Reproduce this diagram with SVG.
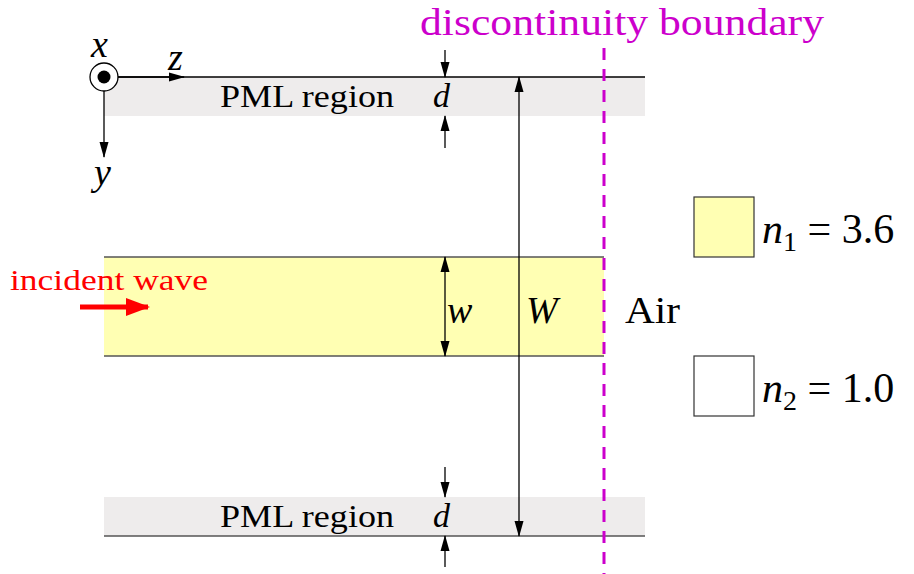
<svg xmlns="http://www.w3.org/2000/svg" width="914" height="574" viewBox="0 0 914 574">
<defs>
<marker id="ah" markerUnits="userSpaceOnUse" markerWidth="16" markerHeight="10" viewBox="0 -5 16 10" refX="15" refY="0" orient="auto-start-reverse">
<path d="M0,-4.5 L16,0 L0,4.5 Z" fill="#000"/>
</marker>
<marker id="ahr" markerUnits="userSpaceOnUse" markerWidth="24" markerHeight="20" viewBox="0 -10 24 20" refX="22" refY="0" orient="auto">
<path d="M0,-9 L24,0 L0,9 Z" fill="#f00"/>
</marker>
</defs>
<style>
text{font-family:"Liberation Serif","Noto Serif","DejaVu Serif","Times New Roman",Times,serif;fill:#000}
.m{font-style:italic}
.dim{stroke:#000;stroke-width:1.3;fill:none}
.pml{fill:#eeecec}
</style>
<rect width="914" height="574" fill="#fff"/>
<g id="pml-top">
<rect class="pml" x="104" y="77" width="541" height="39"/>
<line x1="104" y1="77" x2="645" y2="77" stroke="#000" stroke-width="1.4"/>
<text x="220" y="107" font-size="31" textLength="174" lengthAdjust="spacingAndGlyphs">PML region</text>
<text class="m" x="433" y="107" font-size="34">d</text>
</g>
<g id="pml-bottom">
<rect class="pml" x="104" y="497" width="541" height="39"/>
<line x1="104" y1="536" x2="645" y2="536" stroke="#555" stroke-width="1.4"/>
<text x="220" y="527" font-size="31" textLength="174" lengthAdjust="spacingAndGlyphs">PML region</text>
<text class="m" x="433" y="527" font-size="34">d</text>
</g>
<g id="core">
<rect x="104" y="257" width="500" height="99" fill="#ffffb3"/>
<line x1="104" y1="257" x2="604" y2="257" stroke="#555" stroke-width="1.4"/>
<line x1="104" y1="356" x2="604" y2="356" stroke="#555" stroke-width="1.4"/>
</g>
<g id="axes">
<circle cx="104" cy="77" r="14" fill="#fff" stroke="#000" stroke-width="1.3"/>
<circle cx="104" cy="77" r="6.5" fill="#000"/>
<line x1="118" y1="77" x2="184" y2="77" class="dim" marker-end="url(#ah)"/>
<line x1="104" y1="91" x2="104" y2="157" class="dim" marker-end="url(#ah)"/>
<text class="m" x="91" y="57" font-size="38">x</text>
<text class="m" x="168" y="70" font-size="38">z</text>
<text class="m" x="94" y="185" font-size="38">y</text>
</g>
<g id="connectors">
<line x1="445" y1="50" x2="445" y2="77" class="dim" marker-end="url(#ah)"/>
<line x1="445" y1="148" x2="445" y2="116" class="dim" marker-end="url(#ah)"/>
<line x1="445" y1="467" x2="445" y2="497" class="dim" marker-end="url(#ah)"/>
<line x1="445" y1="567" x2="445" y2="536" class="dim" marker-end="url(#ah)"/>
<line x1="519" y1="77" x2="519" y2="536" class="dim" marker-start="url(#ah)" marker-end="url(#ah)"/>
<line x1="445" y1="257" x2="445" y2="356" class="dim" marker-start="url(#ah)" marker-end="url(#ah)"/>
<line x1="80" y1="307" x2="148" y2="307" stroke="#f00" stroke-width="5" marker-end="url(#ahr)"/>
</g>
<g id="labels">
<text class="m" x="447" y="323" font-size="38">w</text>
<text class="m" x="526" y="323" font-size="38">W</text>
<text x="625" y="323" font-size="37" textLength="55" lengthAdjust="spacingAndGlyphs">Air</text>
<text x="10" y="290" font-size="30" style="fill:#f00" textLength="198" lengthAdjust="spacingAndGlyphs">incident wave</text>
</g>
<g id="boundary">
<line x1="604" y1="48" x2="604" y2="574" stroke="#cc00cc" stroke-width="3" stroke-dasharray="12 9"/>
<text x="420" y="35" font-size="38" style="fill:#cc00cc" textLength="404" lengthAdjust="spacingAndGlyphs">discontinuity boundary</text>
</g>
<g id="legend-n1">
<rect x="694" y="197" width="60" height="60" fill="#ffffb3" stroke="#333" stroke-width="1.2"/>
<text x="762" y="243" font-size="42"><tspan class="m">n</tspan><tspan font-size="28" dy="8">1</tspan><tspan dy="-8"> = 3.6</tspan></text>
</g>
<g id="legend-n2">
<rect x="694" y="356" width="60" height="60" fill="#fff" stroke="#333" stroke-width="1.2"/>
<text x="762" y="402" font-size="42"><tspan class="m">n</tspan><tspan font-size="28" dy="8">2</tspan><tspan dy="-8"> = 1.0</tspan></text>
</g>
</svg>
